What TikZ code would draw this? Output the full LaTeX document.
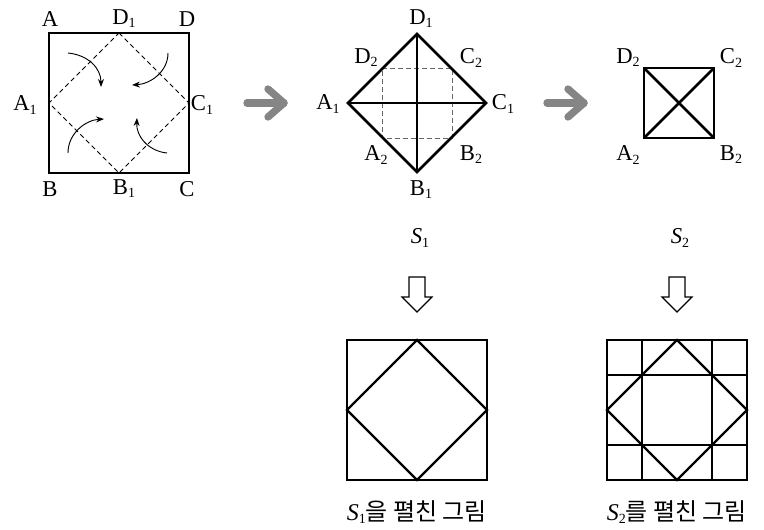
\documentclass[tikz,border=0pt]{standalone}
\usepackage{fontspec}
\setmainfont{Liberation Serif}
\newfontfamily\kor{Noto Sans CJK KR}
\usetikzlibrary{arrows.meta}
\newcommand{\sbs}[1]{\raisebox{-0.3ex}{\fontsize{10.5}{11}\selectfont #1}}
\tikzset{
  lbl/.style={font=\fontsize{17}{18}\selectfont, inner sep=0pt},
  thick frame/.style={line width=2pt, line join=miter},
  thin frame/.style={line width=0.85pt},
  folddash/.style={line width=0.7pt, dash pattern=on 3.5pt off 2.5pt},
  folddash2/.style={line width=0.7pt, dash pattern=on 3.5pt off 2.5pt, draw=black!60},
  curvy/.style={line width=0.7pt, -{Stealth[length=6pt,width=4.5pt]}},
  grayarrow/.style={line width=5.5pt, draw=black!48, line cap=round, line join=round},
  hollow/.style={line width=0.9pt, line join=miter},
  caption/.style={font=\fontsize{18}{20}\selectfont, inner sep=0pt}
}
\begin{document}
\begin{tikzpicture}[x=0.75pt,y=-0.75pt]
\useasboundingbox (0,0) rectangle (764,529);
% ---------- first square ----------
\coordinate (A) at (49,33); \coordinate (D) at (189,33);
\coordinate (B) at (49,173); \coordinate (C) at (189,173);
\coordinate (D1) at (119,33); \coordinate (A1) at (49,103);
\coordinate (C1) at (189,103); \coordinate (B1) at (119,173);
\draw[folddash] (D1) -- (C1) -- (B1) -- (A1) -- cycle;
\draw[thick frame] (A) -- (D) -- (C) -- (B) -- cycle;
\node[lbl] (lA) at (50,19) {A};
\node[lbl] (lD1) at (124,19) {D\sbs{1}};
\node[lbl] (lD) at (187,19) {D};
\node[lbl] (lA1) at (25,105) {A\sbs{1}};
\node[lbl] (lC1) at (202,105) {C\sbs{1}};
\node[lbl] (lB) at (50,189) {B};
\node[lbl] (lB1) at (124,189) {B\sbs{1}};
\node[lbl] (lC) at (187,189) {C};
\coordinate (c1s) at (68,53); \coordinate (c1e) at (101,87);
\coordinate (c2s) at (168,53); \coordinate (c2e) at (132,85);
\coordinate (c3s) at (68,153); \coordinate (c3e) at (104,119);
\coordinate (c4s) at (167,153); \coordinate (c4e) at (137,118);
\draw[curvy] (c1s) .. controls (88,55) and (101,68) .. (c1e);
\draw[curvy] (c2s) .. controls (168,72) and (150,84) .. (c2e);
\draw[curvy] (c3s) .. controls (68,133) and (86,120) .. (c3e);
\draw[curvy] (c4s) .. controls (148,151) and (136,136) .. (c4e);
% ---------- gray arrows ----------
\coordinate (g1a) at (247,103); \coordinate (g1b) at (284,103);
\coordinate (g1u) at (268,89); \coordinate (g1d) at (268,117);
\draw[grayarrow] (g1a) -- (g1b);
\draw[grayarrow] (g1u) -- (g1b) -- (g1d);
\coordinate (g2a) at (547,103); \coordinate (g2b) at (584,103);
\coordinate (g2u) at (568,89); \coordinate (g2d) at (568,117);
\draw[grayarrow] (g2a) -- (g2b);
\draw[grayarrow] (g2u) -- (g2b) -- (g2d);
% ---------- S1 ----------
\coordinate (sD1) at (417,34); \coordinate (sB1) at (417,172);
\coordinate (sA1) at (348,103); \coordinate (sC1) at (486,103);
\coordinate (sD2) at (382,68); \coordinate (sC2) at (452,68);
\coordinate (sA2) at (382,138); \coordinate (sB2) at (452,138);
\draw[folddash2] (sD2) -- (sC2) -- (sB2) -- (sA2) -- cycle;
\draw[thick frame] (sD1) -- (sC1) -- (sB1) -- (sA1) -- cycle;
\draw[thick frame] (sA1) -- (sC1);
\draw[thick frame] (sD1) -- (sB1);
\node[lbl] (tD1) at (421,19) {D\sbs{1}};
\node[lbl] (tA1) at (328,104) {A\sbs{1}};
\node[lbl] (tC1) at (503,104) {C\sbs{1}};
\node[lbl] (tD2) at (366,58) {D\sbs{2}};
\node[lbl] (tC2) at (471,58) {C\sbs{2}};
\node[lbl] (tA2) at (376,155) {A\sbs{2}};
\node[lbl] (tB2) at (471,155) {B\sbs{2}};
\node[lbl] (tB1) at (421,190) {B\sbs{1}};
\node[lbl] (tS1) at (420,238) {\textit{S}\sbs{1}};
% ---------- S2 ----------
\coordinate (uA2) at (644,138); \coordinate (uB2) at (714,138);
\coordinate (uC2) at (714,68); \coordinate (uD2) at (644,68);
\draw[thick frame] (uA2) -- (uB2) -- (uC2) -- (uD2) -- cycle;
\draw[thick frame] (uA2) -- (uC2);
\draw[thick frame] (uD2) -- (uB2);
\node[lbl] (vD2) at (628,58) {D\sbs{2}};
\node[lbl] (vC2) at (731,58) {C\sbs{2}};
\node[lbl] (vA2) at (628,155) {A\sbs{2}};
\node[lbl] (vB2) at (731,155) {B\sbs{2}};
\node[lbl] (vS2) at (680,238) {\textit{S}\sbs{2}};
% ---------- hollow arrows ----------
\draw[hollow] (409,277) -- (425,277) -- (425,297) -- (432,297) -- (417,312) -- (402,297) -- (409,297) -- cycle;
\draw[hollow] (669,277) -- (685,277) -- (685,297) -- (692,297) -- (677,312) -- (662,297) -- (669,297) -- cycle;
% ---------- unfolded S1 ----------
\coordinate (p1) at (347,340); \coordinate (p2) at (487,480);
\draw[thin frame] (p1) rectangle (p2);
\coordinate (m1) at (417,340); \coordinate (m2) at (487,410);
\coordinate (m3) at (417,480); \coordinate (m4) at (347,410);
\draw[line width=1.7pt, line join=miter] (m1) -- (m2) -- (m3) -- (m4) -- cycle;
\node[caption] (cap1) at (417,512) {\textit{S}\sbs{1}\kor 을 펼친 그림};
% ---------- unfolded S2 ----------
\coordinate (q1) at (607,340); \coordinate (q2) at (747,480);
\draw[thin frame] (q1) rectangle (q2);
\draw[line width=1.1pt] (642,340) -- (642,480) (712,340) -- (712,480)
  (607,375) -- (747,375) (607,445) -- (747,445);
\coordinate (n1) at (677,340); \coordinate (n2) at (747,410);
\coordinate (n3) at (677,480); \coordinate (n4) at (607,410);
\draw[line width=1.7pt, line join=miter] (n1) -- (n2) -- (n3) -- (n4) -- cycle;
\node[caption] (cap2) at (677,512) {\textit{S}\sbs{2}\kor 를 펼친 그림};
\end{tikzpicture}
\end{document}
